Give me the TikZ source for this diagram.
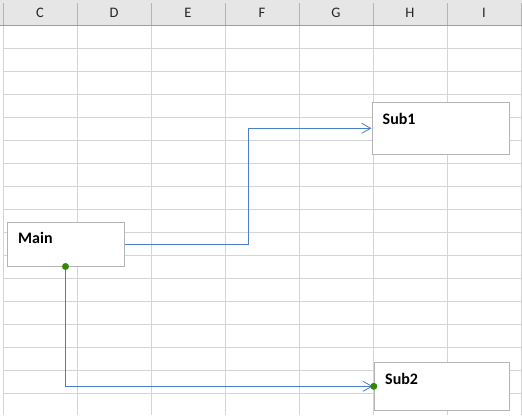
\documentclass[tikz,border=0pt]{standalone}
\usepackage{fontspec}
\setmainfont{Carlito}
\usetikzlibrary{arrows.meta}
\definecolor{gridc}{HTML}{D4D4D4}
\definecolor{headbg}{HTML}{E6E6E6}
\definecolor{headsep}{HTML}{B4B4B4}
\definecolor{headline}{HTML}{9E9E9E}
\definecolor{boxc}{HTML}{B4B4B4}
\definecolor{linkc}{HTML}{4A7EC8}
\definecolor{dotc}{HTML}{2E8B00}
\tikzset{
  gridline/.style={draw=gridc, line width=1pt},
  hdr/.style={font=\fontsize{14.5}{16}\selectfont, text=black!85, inner sep=0pt},
  shapebox/.style={draw=boxc, fill=white, line width=1pt, rectangle, inner sep=0pt},
  lbl/.style={font=\fontsize{16}{18}\selectfont\bfseries, inner sep=0pt, anchor=west},
  conn/.style={draw=linkc, line width=0.9pt},
  arrowtip/.style={-{Straight Barb[length=9pt,width=10pt,line width=0.8pt]}},
  gdot/.style={circle, fill=dotc, draw=none, minimum size=7pt, inner sep=0pt}
}
\begin{document}
\begin{tikzpicture}[x=1pt,y=-1pt]
\useasboundingbox (0,0) rectangle (522,415);
\fill[white] (0,0) rectangle (522,415);
% header
\fill[headbg] (0,0) rectangle (522,25);
% body grid
\foreach \yy in {48,71,94,117,140,163,186,209,232,255,278,301,324,347,370,393}
  \draw[gridline] (3,\yy) -- (522,\yy);
\foreach \xx in {3,77,151,225,299,373,447,521}
  \draw[gridline] (\xx,25) -- (\xx,415);
% header separators
\foreach \xx in {3,77,151,225,299,373,447,521}
  \draw[headsep, line width=1pt] (\xx,3) -- (\xx,25);
\draw[headline, line width=1pt] (0,25) -- (522,25);
% header letters
\node[hdr] (hC) at (40,13) {C};
\node[hdr] (hD) at (114,13) {D};
\node[hdr] (hE) at (188,13) {E};
\node[hdr] (hF) at (262,13) {F};
\node[hdr] (hG) at (336,13) {G};
\node[hdr] (hH) at (410,13) {H};
\node[hdr] (hI) at (484,13) {I};
% boxes
\node[shapebox, minimum width=117pt, minimum height=44pt] (main) at (65.5,244) {};
\node[shapebox, minimum width=137pt, minimum height=51.5pt] (sub1) at (441,128.3) {};
\node[shapebox, minimum width=135pt, minimum height=47.5pt] (sub2) at (441.8,386.3) {};
\node[lbl] (maint) at (18,238) {Main};
\node[lbl] (sub1t) at (382.5,119) {Sub1};
\node[lbl] (sub2t) at (385,379) {Sub2};
% connectors
\coordinate (bend1) at (248,244);
\draw[conn, arrowtip] (main.east) -- (bend1) |- ([xshift=-0.5pt]sub1.west);
\draw[conn, arrowtip] (main.south) |- ([xshift=-1pt]sub2.west);
\node[gdot] (d1) at (main.south) {};
\node[gdot] (d2) at (sub2.west) {};
\end{tikzpicture}
\end{document}
